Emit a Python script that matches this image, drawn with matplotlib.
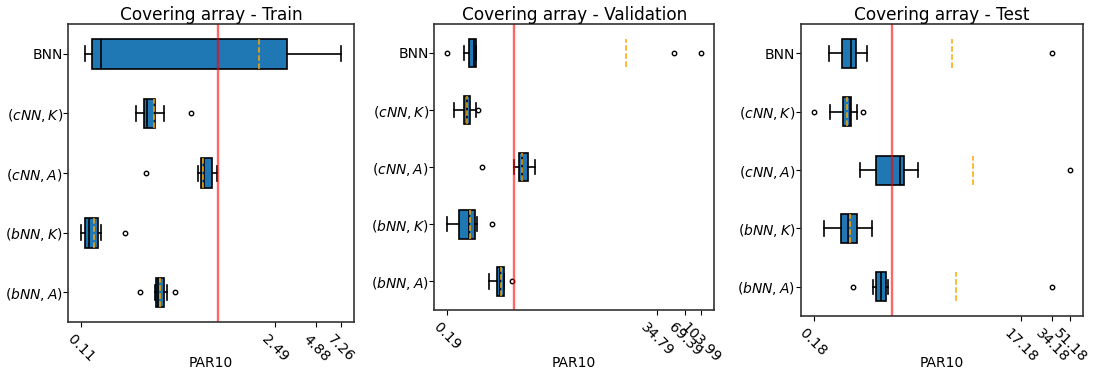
import matplotlib
matplotlib.use("Agg")
import matplotlib.pyplot as plt
import numpy as np

labels = ["BNN", r"$(cNN, K)$", r"$(cNN, A)$", r"$(bNN, K)$", r"$(bNN, A)$"]
panels = ["Train", "Validation", "Test"]

# per panel, per method (order as labels): whislo, q1, med, q3, whishi, mean
train_whislo = [0.117, 0.265, 0.726, 0.110, 0.359]
train_q1     = [0.130, 0.302, 0.755, 0.116, 0.369]
train_med    = [0.151, 0.315, 0.793, 0.124, 0.377]
train_q3     = [3.04, 0.360, 0.902, 0.143, 0.417]
train_whishi = [7.26, 0.415, 0.977, 0.151, 0.435]
train_mean   = [1.92, 0.357, 0.783, 0.136, 0.389]
train_fliers = [[], [0.649], [0.314], [0.221], [0.282, 0.495]]

val_whislo = [0.292, 0.224, 0.99, 0.19, 0.542]
val_q1     = [0.330, 0.287, 1.12, 0.258, 0.656]
val_med    = [0.374, 0.310, 1.22, 0.330, 0.715]
val_q3     = [0.390, 0.337, 1.40, 0.384, 0.773]
val_whishi = [0.390, 0.393, 1.68, 0.396, 0.783]
val_mean   = [16.1, 0.314, 1.22, 0.335, 0.718]
val_fliers = [[0.19, 52.3, 103.99], [0.41], [0.448], [0.579], [0.953]]

test_whislo = [0.254, 0.258, 0.498, 0.228, 0.671]
test_q1     = [0.333, 0.341, 0.718, 0.328, 0.708]
test_med    = [0.406, 0.400, 1.20, 0.385, 0.794]
test_q3     = [0.456, 0.410, 1.33, 0.473, 0.887]
test_whishi = [0.589, 0.470, 1.78, 0.649, 0.920]
test_mean   = [3.80, 0.372, 6.03, 0.403, 4.10]
test_fliers = [[34.18], [0.18, 0.540], [51.18], [], [0.430, 34.18]]

data = {
    "Train": (train_whislo, train_q1, train_med, train_q3, train_whishi, train_mean, train_fliers),
    "Validation": (val_whislo, val_q1, val_med, val_q3, val_whishi, val_mean, val_fliers),
    "Test": (test_whislo, test_q1, test_med, test_q3, test_whishi, test_mean, test_fliers),
}
ref_value = 1.0

# axes rectangles in pixels (left, top, right, bottom) of a 1095x377 figure
W, H = 1095, 377
rects = {
    "Train": (68.3, 24, 354, 322.3),
    "Validation": (434.3, 24.3, 714, 310),
    "Test": (800.7, 24.3, 1083.3, 316),
}
xlabel_top_px = 356

fs_x = 10.3
fs_y = 10.0
fs_title = 12.2
fig = plt.figure(figsize=(W / 100, H / 100), dpi=100)

for name in panels:
    l, t, r, b = rects[name]
    ax = fig.add_axes([l / W, 1 - b / H, (r - l) / W, (b - t) / H])
    wl, q1, md, q3, wh, mn, fl = data[name]
    stats = []
    for i in range(len(labels)):
        stats.append(dict(whislo=wl[i], q1=q1[i], med=md[i], q3=q3[i],
                          whishi=wh[i], mean=mn[i], fliers=fl[i]))
    stats_rev = stats[::-1]
    ax.bxp(stats_rev, vert=False, patch_artist=True, showmeans=True, meanline=True,
           boxprops=dict(facecolor="#1f77b4", edgecolor="black", linewidth=1.2),
           medianprops=dict(color="black", linewidth=1.2),
           meanprops=dict(color="orange", linestyle="--", linewidth=1.1),
           whiskerprops=dict(color="black", linewidth=1.2),
           capprops=dict(color="black", linewidth=1.2),
           flierprops=dict(marker="o", markersize=3.2, markerfacecolor="none",
                           markeredgecolor="black", markeredgewidth=1.0))
    ax.set_yticks(range(1, len(labels) + 1))
    ax.set_yticklabels(labels[::-1], fontsize=fs_y)
    ax.tick_params(axis="y", pad=0.5)
    for sp in ax.spines.values():
        sp.set_linewidth(1.2)
        sp.set_color("#333333")
    ax.set_xscale("log")
    ax.axvline(ref_value, color="red", alpha=0.6, linewidth=1.7)
    allv = []
    for s in stats:
        allv += [s["whislo"], s["whishi"]] + list(s["fliers"])
    lo, hi = min(allv), max(allv)
    ticks = np.linspace(lo, hi, 4)
    ax.set_xticks(ticks)
    ax.set_xticklabels([f"{v:.2f}" for v in ticks], rotation=-45, fontsize=fs_x)
    ax.xaxis.set_minor_locator(matplotlib.ticker.NullLocator())
    ax.set_xlabel("PAR10", fontsize=fs_y)
    ax.xaxis.set_label_coords(0.5, (b - xlabel_top_px) / (b - t))
    ax.set_title(f"Covering array - {name}", fontsize=fs_title, pad=3)
    ax.set_ylim(0.5, 5.5)
    ax.margins(x=0.05)

fig.savefig("out.png", dpi=100)
